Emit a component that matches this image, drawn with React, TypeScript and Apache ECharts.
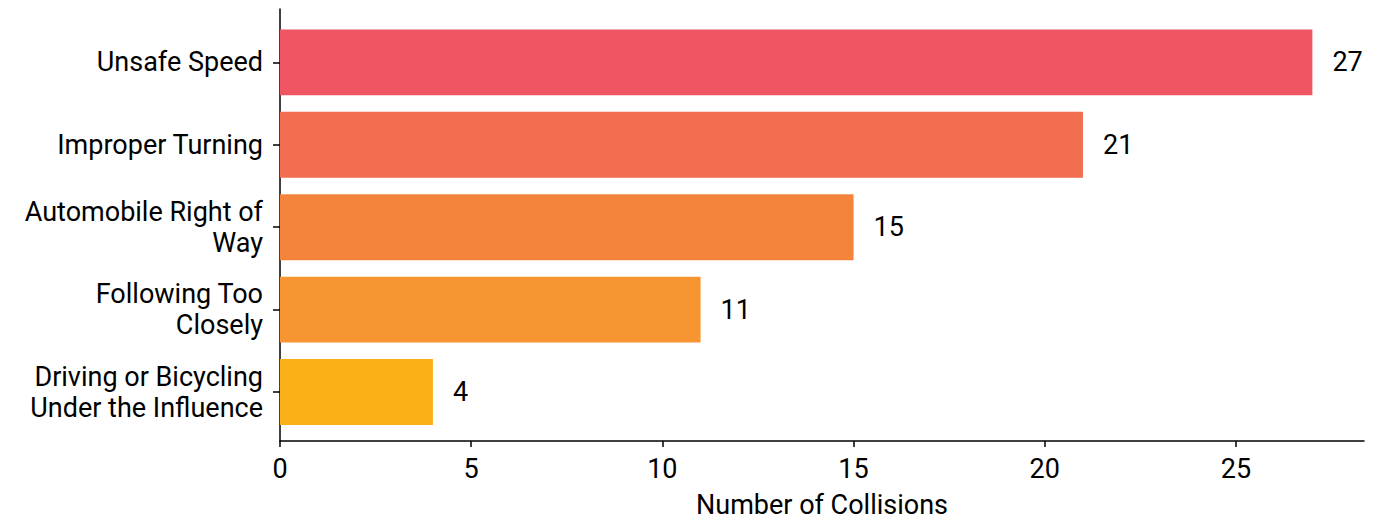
import React, { useEffect, useRef } from "react";
import * as echarts from "echarts";

const categories = [
  "Unsafe Speed",
  "Improper Turning",
  "Automobile Right of Way",
  "Following Too Closely",
  "Driving or Bicycling Under the Influence",
];
const values = [27, 21, 15, 11, 4];
const barColors = ["#f05563", "#f26c4f", "#f4843c", "#f79532", "#fbaf17"];
const xTicks = [0, 5, 10, 15, 20, 25];
const xAxisName = "Number of Collisions";
const X_MAX = 28.35;

const FONT = "Roboto";
const FS = 27;

function wrap(s: string, maxChars: number): string {
  const words = s.split(" ");
  const lines: string[] = [];
  let cur = "";
  for (const w of words) {
    const next = cur ? cur + " " + w : w;
    if (next.length > maxChars && cur) {
      lines.push(cur);
      cur = w;
    } else cur = next;
  }
  if (cur) lines.push(cur);
  return lines.join("\n");
}

export default function App() {
  const ref = useRef<HTMLDivElement>(null);
  useEffect(() => {
    if (!ref.current) return;
    const chart = echarts.init(ref.current, undefined, { renderer: "svg" });
    const gridLeft = 280;
    const gridRight = 23;
    chart.setOption({
      animation: false,
      backgroundColor: "#ffffff",
      textStyle: { fontFamily: FONT },
      grid: [
        { left: gridLeft, right: gridRight, top: 21.2, height: 412, containLabel: false },
        { left: gridLeft, right: gridRight, top: 9, bottom: 79, containLabel: false },
      ],
      xAxis: [
        { gridIndex: 0, type: "value", min: 0, max: X_MAX, show: false },
        {
          gridIndex: 1,
          type: "value",
          min: 0,
          max: X_MAX,
          interval: 5,
          axisLine: { show: true, lineStyle: { color: "#000", width: 1.5 } },
          axisTick: { show: true, length: 6, lineStyle: { color: "#000", width: 1.5 } },
          axisLabel: {
            color: "#000",
            fontSize: FS,
            fontFamily: FONT,
            margin: 14,
            showMaxLabel: false,
            formatter: (v: number) => (xTicks.includes(v) ? String(v) : ""),
          },
          splitLine: { show: false },
          name: xAxisName,
          nameLocation: "middle",
          nameGap: 50,
          nameTextStyle: { color: "#000", fontSize: FS, fontFamily: FONT },
        },
      ],
      yAxis: [
        {
          gridIndex: 0,
          type: "category",
          inverse: true,
          data: categories,
          axisLine: { show: false },
          axisTick: {
            show: true,
            alignWithLabel: true,
            length: 7,
            lineStyle: { color: "#000", width: 1.5 },
          },
          axisLabel: {
            color: "#000",
            fontSize: FS,
            fontFamily: FONT,
            margin: 17,
            lineHeight: 31,
            align: "right",
            padding: [5, 0, 0, 0],
            formatter: (v: string) => wrap(v, 20),
          },
        },
        {
          gridIndex: 1,
          type: "value",
          min: 0,
          max: 1,
          axisLine: { show: true, lineStyle: { color: "#000", width: 1.5 } },
          axisTick: { show: false },
          axisLabel: { show: false },
          splitLine: { show: false },
        },
      ],
      series: [
        {
          type: "bar",
          xAxisIndex: 0,
          yAxisIndex: 0,
          barWidth: "80%",
          data: values.map((v, i) => ({ value: v, itemStyle: { color: barColors[i] } })),
          label: {
            show: true,
            position: "right",
            distance: 20,
            color: "#000",
            fontSize: FS,
            fontFamily: FONT,
            padding: [4, 0, 0, 0],
          },
        },
      ],
    });
    return () => chart.dispose();
  }, []);
  return <div ref={ref} style={{ width: 1387, height: 523, position: "absolute", left: 0, top: 0 }} />;
}
